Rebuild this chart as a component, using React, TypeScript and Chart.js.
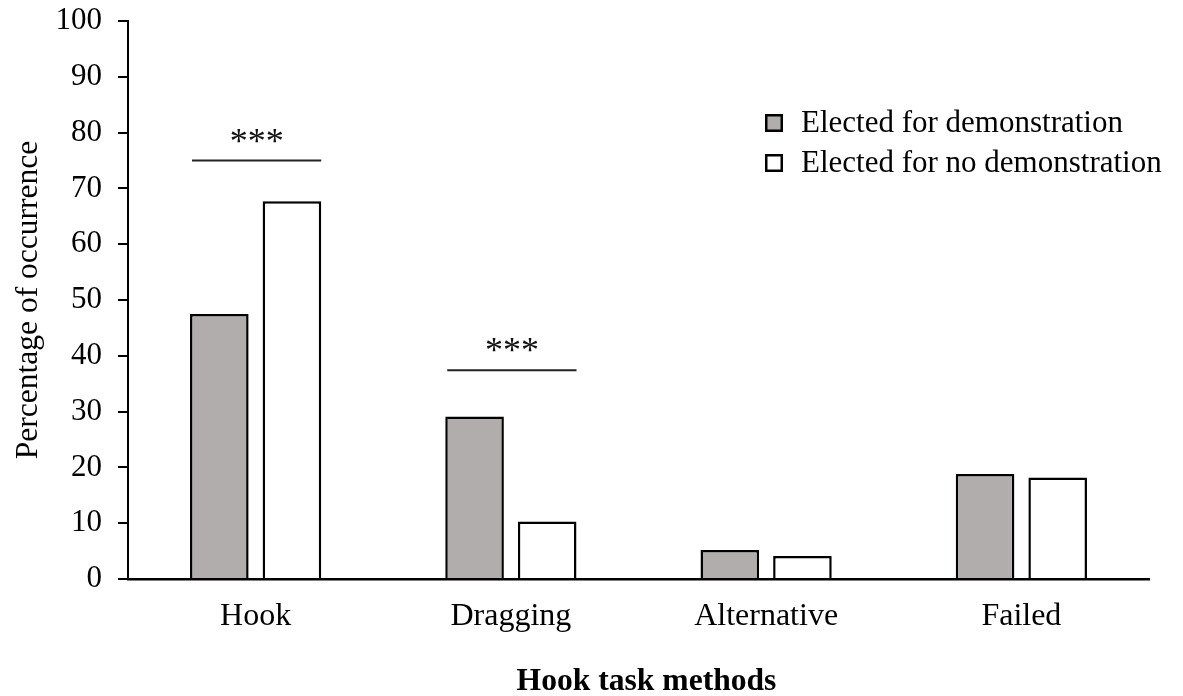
import React, { useEffect, useRef } from "react";
import { Chart, registerables } from "chart.js";

Chart.register(...registerables);

const categories = ["Hook", "Dragging", "Alternative", "Failed"];
const demonstration = [47.5, 29.1, 5.2, 18.8];
const noDemonstration = [67.7, 10.3, 4.1, 18.2];
const seriesLabels = ["Elected for demonstration", "Elected for no demonstration"];
const seriesColors = ["#b1adac", "#ffffff"];
const sigLevels: (number | null)[] = [75, 37.4, null, null];
const sigMarks = ["***", "***", "", ""];
const yTitle = "Percentage of occurrence";
const xTitle = "Hook task methods";

const FONT = "'Liberation Serif', 'Times New Roman', Times, serif";

const overlayPlugin = {
  id: "overlay",
  afterDraw(chart: any) {
    const ctx = chart.ctx;
    const area = chart.chartArea;
    const yScale = chart.scales.y;
    const m0 = chart.getDatasetMeta(0);
    const m1 = chart.getDatasetMeta(1);
    ctx.save();
    // significance lines
    sigLevels.forEach((lvl, i) => {
      if (lvl == null) return;
      const b0 = m0.data[i];
      const b1 = m1.data[i];
      const x0 = b0.x - b0.width / 2 + 2;
      const x1 = b1.x + b1.width / 2;
      const y = yScale.getPixelForValue(lvl);
      ctx.strokeStyle = "#222";
      ctx.lineWidth = 2;
      ctx.beginPath();
      ctx.moveTo(x0, y);
      ctx.lineTo(x1, y);
      ctx.stroke();
      ctx.fillStyle = "#111";
      ctx.font = `36px ${FONT}`;
      ctx.textAlign = "center";
      ctx.textBaseline = "alphabetic";
      ctx.fillText(sigMarks[i], (x0 + x1) / 2, y - 8);
    });
    // legend
    const lx = area.right - 384;
    const ly = area.top + 93;
    seriesLabels.forEach((lab, i) => {
      const y = ly + i * 40;
      ctx.fillStyle = seriesColors[i];
      ctx.fillRect(lx, y, 18, 18);
      ctx.strokeStyle = "#000";
      ctx.lineWidth = 2.5;
      ctx.strokeRect(lx + 1.25, y + 1.25, 15.5, 15.5);
      ctx.fillStyle = "#000";
      ctx.font = `31px ${FONT}`;
      ctx.textAlign = "left";
      ctx.textBaseline = "middle";
      ctx.fillText(lab, lx + 36, y + 10);
    });
    // x title
    ctx.font = `bold 31.6px ${FONT}`;
    ctx.textAlign = "center";
    ctx.textBaseline = "alphabetic";
    ctx.fillStyle = "#000";
    ctx.fillText(xTitle, (area.left + area.right) / 2 + 8, 690);
    ctx.restore();
  },
};

export default function App() {
  const ref = useRef<HTMLCanvasElement | null>(null);
  useEffect(() => {
    document.body.style.margin = "0";
    if (!ref.current) return;
    const chart = new Chart(ref.current, {
      type: "bar",
      data: {
        labels: categories,
        datasets: [
          {
            label: seriesLabels[0],
            data: demonstration,
            backgroundColor: seriesColors[0],
            borderColor: "#000",
            borderWidth: 2.5,
          },
          {
            label: seriesLabels[1],
            data: noDemonstration,
            backgroundColor: seriesColors[1],
            borderColor: "#000",
            borderWidth: 2.5,
          },
        ],
      },
      options: {
        responsive: false,
        animation: false,
        devicePixelRatio: 1,
        layout: { padding: { top: 21, right: 34, left: 0, bottom: 0 } },
        plugins: {
          legend: { display: false },
          tooltip: { enabled: false },
        },
        datasets: {
          bar: { categoryPercentage: 0.569, barPercentage: 0.807 },
        },
        scales: {
          x: {
            grid: { display: false, drawTicks: false },
            border: { display: true, color: "#000", width: 2.5 },
            ticks: { color: "#000", font: { family: FONT, size: 32 }, padding: 18 },
            afterFit: (s: any) => {
              s.height = 117;
              s.paddingLeft = 0;
              s.paddingRight = 0;
            },
          },
          y: {
            min: 0,
            max: 100,
            ticks: { stepSize: 10, color: "#000", font: { family: FONT, size: 31 }, padding: 16 },
            grid: { drawOnChartArea: false, drawTicks: true, tickLength: 10, color: "#000", lineWidth: 2 },
            border: { display: true, color: "#000", width: 2 },
            title: {
              display: true,
              text: yTitle,
              color: "#000",
              font: { family: FONT, size: 31.5 },
              padding: { top: 10, bottom: 0 },
            },
            afterFit: (s: any) => {
              s.width = 128;
              s.paddingTop = 0;
              s.paddingBottom = 0;
            },
          },
        },
      },
      plugins: [overlayPlugin],
    });
    return () => chart.destroy();
  }, []);
  return (
    <div style={{ width: 1183, height: 696 }}>
      <canvas ref={ref} width={1183} height={696} />
    </div>
  );
}
